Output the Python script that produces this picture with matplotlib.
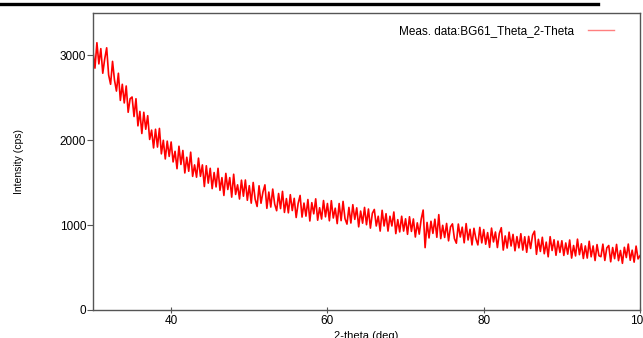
import numpy as np
import matplotlib
matplotlib.use("Agg")
import matplotlib.pyplot as plt
from matplotlib.lines import Line2D

plt.rcParams['font.family'] = ['Liberation Sans', 'DejaVu Sans']

# 2-theta from 30 to 100 deg, 0.25 deg step
two_theta = np.arange(30.0, 100.001, 0.25)

# intensity (cps), 20 values per 5 deg
intensity = [
    3050, 2850, 3150, 2900, 3080, 2790, 2960, 3090, 2770, 2660, 2930, 2710, 2580, 2790, 2470, 2660, 2440, 2640, 2330, 2490,
    2510, 2280, 2490, 2170, 2340, 2080, 2330, 2130, 2290, 2010, 2120, 1910, 2130, 1920, 2140, 1840, 2000, 1780, 1990, 1810,
    1980, 1745, 1870, 1665, 1930, 1715, 1880, 1615, 1800, 1635, 1860, 1575, 1710, 1565, 1790, 1575, 1710, 1455, 1700, 1495,
    1670, 1430, 1620, 1450, 1670, 1410, 1560, 1350, 1610, 1420, 1560, 1330, 1600, 1362, 1475, 1308, 1530, 1341, 1532, 1293,
    1465, 1259, 1503, 1306, 1220, 1464, 1258, 1391, 1475, 1198, 1390, 1213, 1425, 1248, 1170, 1373, 1195, 1398, 1150, 1313,
    1145, 1359, 1172, 1316, 1090, 1255, 1350, 1095, 1260, 1106, 1302, 1049, 1265, 1133, 1310, 1058, 1205, 1072, 1290, 1098,
    1255, 1051, 1288, 1084, 1200, 1018, 1255, 1053, 1280, 1076, 1012, 1209, 1025, 1241, 1068, 1204, 980, 1166, 1023, 1209,
    1005, 1190, 965, 1140, 1185, 990, 1105, 930, 1175, 990, 1135, 930, 1105, 990, 1155, 900, 1065, 920, 1105, 930,
    1075, 892, 1099, 926, 1073, 860, 1027, 894, 1071, 1178, 735, 1032, 849, 1046, 903, 1070, 857, 1124, 841, 998,
    855, 1020, 815, 980, 1015, 841, 787, 1013, 860, 976, 792, 1018, 825, 951, 767, 963, 840, 767, 974, 791,
    948, 775, 912, 738, 965, 802, 919, 736, 903, 970, 706, 873, 730, 917, 754, 891, 698, 865, 732, 899,
    706, 863, 680, 868, 725, 882, 929, 656, 833, 690, 857, 663, 800, 627, 864, 701, 828, 645, 812, 679,
    816, 643, 790, 658, 825, 612, 760, 637, 835, 652, 780, 607, 755, 612, 810, 627, 755, 583, 771, 639,
    628, 776, 584, 732, 760, 568, 736, 605, 773, 582, 701, 550, 739, 618, 777, 586, 705, 564, 753, 602,
    640,
]

x_ticks = [40, 60, 80, 100]
y_ticks = [0, 1000, 2000, 3000]

fig = plt.figure(figsize=(6.43, 3.38), dpi=100)
ax = fig.add_axes([93 / 643, 28 / 338, 547 / 643, 297 / 338])

ax.plot(two_theta, intensity, color='#ff0000', lw=1.2,
        label='Meas. data:BG61_Theta_2-Theta')

ax.set_xlim(30, 100)
ax.set_ylim(0, 3500)
ax.set_xticks(x_ticks)
ax.set_yticks(y_ticks)

for s in ax.spines.values():
    s.set_color('#555555')
    s.set_linewidth(1.0)
ax.tick_params(axis='both', labelsize=8.5, colors='#555555', labelcolor='black')
ax.tick_params(axis='y', direction='out', length=4, width=0.8, pad=1)
ax.tick_params(axis='x', direction='inout', length=4, width=0.8, pad=1.5)

ax.set_xlabel('2-theta (deg)', fontsize=8, labelpad=3)
ax.set_ylabel('Intensity (cps)', fontsize=7.5)
ax.yaxis.set_label_coords(-0.126, 0.5)

leg = ax.legend(loc='upper right', frameon=False, markerfirst=False,
                fontsize=8.5, borderpad=0, borderaxespad=0,
                handlelength=2.2, handletextpad=1.2,
                bbox_to_anchor=((614 - 93) / 547, 1 - (24 - 12) / 297))
leg.get_lines()[0].set_color('#ff7f7f')
leg.get_lines()[0].set_linewidth(1.0)

# thick rule at the very top
fig.add_artist(Line2D([0, 598 / 643], [1 - 3.5 / 338] * 2, lw=2.4, color='black'))

fig.savefig('out.png', dpi=100)
